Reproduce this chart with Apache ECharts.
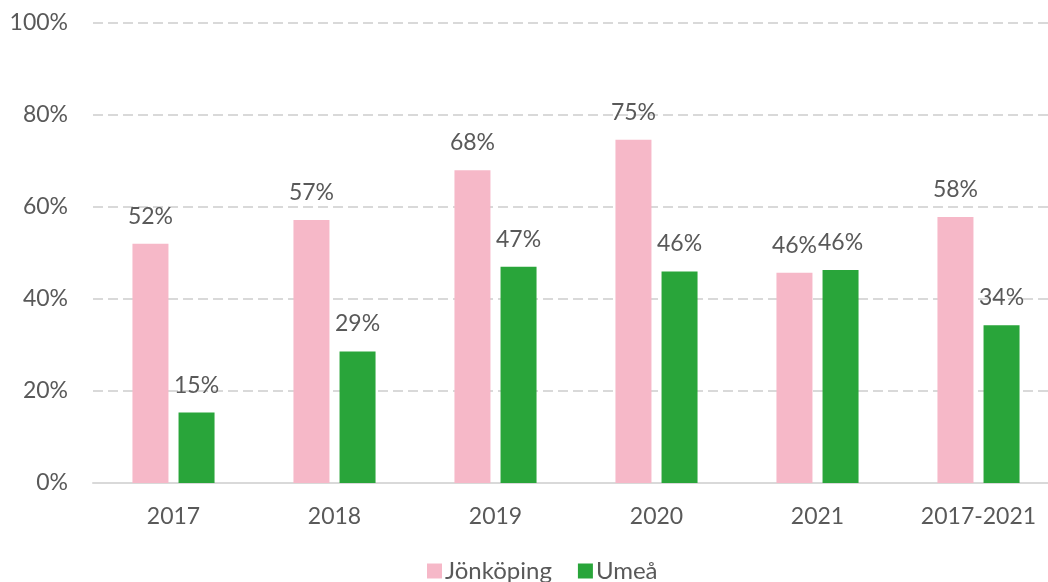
<!DOCTYPE html>
<html>
<head>
<meta charset="utf-8">
<script src="https://cdn.jsdelivr.net/npm/echarts@6/dist/echarts.min.js"></script>
<style>
  html, body { margin: 0; padding: 0; background: #fff; }
  #chart { width: 1048px; height: 582px; }
</style>
</head>
<body>
<div id="chart"></div>
<script>
const categories = ['2017', '2018', '2019', '2020', '2021', '2017-2021']
const jonkoping = [0.52, 0.572, 0.68, 0.746, 0.457, 0.578]
const umea = [0.153, 0.286, 0.47, 0.46, 0.463, 0.343]
const seriesNames = ['Jönköping', 'Umeå']

const textColor = '#595959'
const fontFamily = 'Lato, "Open Sans", sans-serif'
const fontSize = 23

const chart = echarts.init(document.getElementById('chart'))

const labelOpt = {
  show: true,
  position: 'top',
  distance: 16,
  fontSize: fontSize,
  color: textColor,
  fontFamily: fontFamily,
  formatter: p => Math.round(p.value * 100) + '%'
}

chart.setOption({
  animation: false,
  textStyle: { fontFamily: fontFamily },
  grid: { left: 93, top: 23, width: 966, height: 460, outerBoundsMode: 'none', containLabel: false },
  legend: {
    bottom: -6,
    left: 422,
    itemWidth: 15,
    itemHeight: 15,
    itemGap: 26,
    icon: 'rect',
    textStyle: { fontSize: 24, color: textColor, fontFamily: fontFamily, padding: [0, 0, 0, -2] },
    data: seriesNames
  },
  xAxis: {
    type: 'category',
    data: categories,
    axisLine: { lineStyle: { color: '#d9d9d9', width: 2 } },
    axisTick: { show: false },
    axisLabel: { fontSize: fontSize, color: textColor, margin: 22, fontFamily: fontFamily }
  },
  yAxis: {
    type: 'value',
    min: 0,
    max: 1,
    interval: 0.2,
    axisLine: { show: false },
    axisTick: { show: false },
    axisLabel: {
      fontSize: fontSize,
      color: textColor,
      margin: 25,
      fontFamily: fontFamily,
      formatter: v => Math.round(v * 100) + '%'
    },
    splitLine: { lineStyle: { color: '#d9d9d9', width: 2, type: [10, 5] } }
  },
  series: [
    {
      name: seriesNames[0],
      type: 'bar',
      data: jonkoping,
      barWidth: 36,
      barGap: '28%',
      itemStyle: { color: '#f6b8c8' },
      label: labelOpt
    },
    {
      name: seriesNames[1],
      type: 'bar',
      data: umea,
      barWidth: 36,
      itemStyle: { color: '#29a53a' },
      label: labelOpt
    }
  ]
})
</script>
</body>
</html>
